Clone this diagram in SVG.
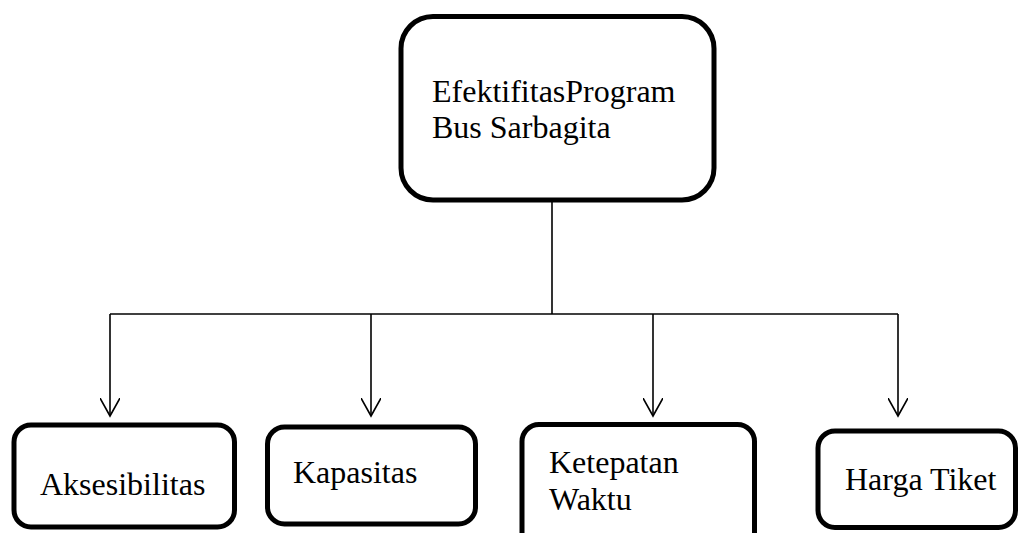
<svg xmlns="http://www.w3.org/2000/svg" width="1019" height="533" viewBox="0 0 1019 533">
<defs>
<style>
.box{fill:#fff;stroke:#000;stroke-width:5}
.t{font-family:"Liberation Serif","Times New Roman",serif;font-size:32px;fill:#000}
.c{fill:none;stroke:#000;stroke-width:1.6}
</style>
<marker id="arr" viewBox="0 0 20 20" refX="18" refY="10" markerWidth="20" markerHeight="20" markerUnits="userSpaceOnUse" orient="auto">
<path d="M0,0 L18,10 L0,20" fill="none" stroke="#000" stroke-width="1.6"/>
</marker>
</defs>
<g id="connectors">
<path class="c" d="M552,202 V314"/>
<path class="c" d="M110,314 H898"/>
<path class="c" d="M110,314 V416" marker-end="url(#arr)"/>
<path class="c" d="M371,314 V416" marker-end="url(#arr)"/>
<path class="c" d="M653,314 V416" marker-end="url(#arr)"/>
<path class="c" d="M898,314 V416" marker-end="url(#arr)"/>
</g>
<g id="n-main">
<rect class="box" x="401" y="16.5" width="313" height="183.5" rx="32"/>
<text class="t" x="432" y="102">EfektifitasProgram</text>
<text class="t" x="432" y="138">Bus Sarbagita</text>
</g>
<g id="n-aksesibilitas">
<rect class="box" x="14" y="425" width="220.5" height="102" rx="17"/>
<text class="t" x="40" y="495">Aksesibilitas</text>
</g>
<g id="n-kapasitas">
<rect class="box" x="267.5" y="427" width="208" height="97" rx="17"/>
<text class="t" x="293" y="483">Kapasitas</text>
</g>
<g id="n-ketepatan">
<rect class="box" x="522" y="424.5" width="232.5" height="130" rx="17"/>
<text class="t" x="549" y="473">Ketepatan</text>
<text class="t" x="549" y="510">Waktu</text>
</g>
<g id="n-harga">
<rect class="box" x="818" y="431" width="197.5" height="96.5" rx="17"/>
<text class="t" x="845" y="490">Harga Tiket</text>
</g>
</svg>
